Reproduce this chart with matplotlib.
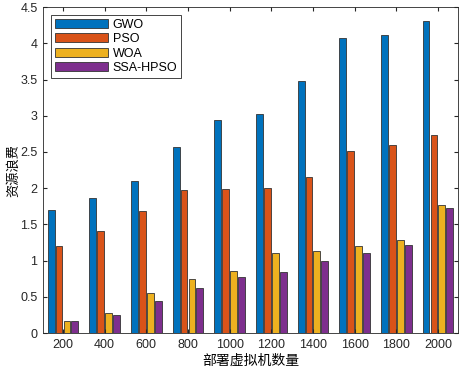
import numpy as np
import matplotlib
matplotlib.use('Agg')
import matplotlib.pyplot as plt

# dados
vm_counts = ['200', '400', '600', '800', '1000', '1200', '1400', '1600', '1800', '2000']
gwo = [1.70, 1.87, 2.10, 2.57, 2.94, 3.03, 3.48, 4.08, 4.11, 4.31]
pso = [1.20, 1.41, 1.68, 1.97, 1.99, 2.00, 2.16, 2.51, 2.59, 2.74]
woa = [0.17, 0.28, 0.55, 0.75, 0.86, 1.11, 1.13, 1.20, 1.29, 1.77]
ssa_hpso = [0.17, 0.25, 0.44, 0.62, 0.77, 0.84, 1.00, 1.10, 1.21, 1.72]

series = [('GWO', gwo, '#0072BD'), ('PSO', pso, '#D95319'),
          ('WOA', woa, '#EDB120'), ('SSA-HPSO', ssa_hpso, '#7E2F8E')]

plt.rcParams['font.family'] = ['Liberation Sans', 'Noto Sans CJK SC']

fig = plt.figure(figsize=(4.6, 3.73), dpi=100)
ax = fig.add_axes([0.0935, 0.107, 0.902, 0.874])

x = np.arange(1, len(vm_counts) + 1)
step = 0.19
width = 0.165
for i, (name, vals, color) in enumerate(series):
    ax.bar(x + (i - 1.5) * step, vals, width, color=color, edgecolor='#333333',
           linewidth=0.6, label=name)

ax.set_xlim(0.52, 10.48)
ax.set_ylim(0, 4.5)
ax.set_xticks(x)
ax.set_xticklabels(vm_counts)
yt = np.arange(0, 4.51, 0.5)
ax.set_yticks(yt)
ax.set_yticklabels(['%g' % v for v in yt])

ax.tick_params(direction='in', top=True, right=True, labelsize=9, length=3,
               color='#262626', labelcolor='#262626', pad=4)
for s in ax.spines.values():
    s.set_color('#262626')
    s.set_linewidth(0.6)

ax.set_xlabel('部署虚拟机数量', family='Noto Sans CJK SC', fontsize=10, labelpad=2)
ax.set_ylabel('资源浪费', family='Noto Sans CJK SC', fontsize=9.5)
ax.yaxis.set_label_coords(-0.055, 0.5)

leg = ax.legend(loc='upper left', fontsize=9, handlelength=4.2, handleheight=0.75,
                handletextpad=0.4, labelspacing=0.2, borderpad=0.3,
                fancybox=False, framealpha=1, edgecolor='#262626',
                bbox_to_anchor=(0.005, 0.995))
leg.get_frame().set_linewidth(0.6)

fig.savefig('out.png', dpi=100)
